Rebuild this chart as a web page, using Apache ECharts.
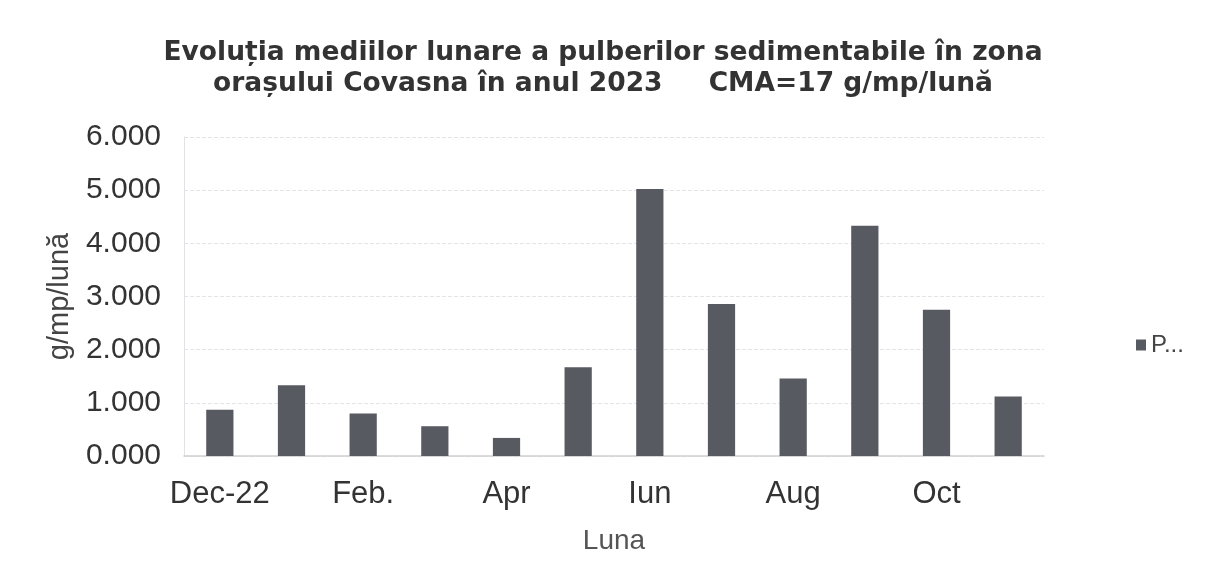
<!DOCTYPE html>
<html>
<head>
<meta charset="utf-8">
<script src="https://cdn.jsdelivr.net/npm/echarts@6/dist/echarts.min.js"></script>
<style>
html,body{margin:0;padding:0;background:#fff;}
#chart{width:1206px;height:582px;}
</style>
</head>
<body>
<div id="chart"></div>
<script>
const months = ['Dec-22','Ian.','Feb.','Mar','Apr','Mai','Iun','Iul','Aug','Sep','Oct','Nov'];
const values = [0.87, 1.33, 0.80, 0.56, 0.34, 1.67, 5.02, 2.86, 1.46, 4.33, 2.75, 1.12];
const seriesName = 'P...';
const titleLines = ['Evoluția mediilor lunare a pulberilor sedimentabile în zona', 'orașului Covasna în anul 2023     CMA=17 g/mp/lună'];

const FONT = 'Liberation Sans, Arial, sans-serif';
const chart = echarts.init(document.getElementById('chart'));
chart.setOption({
  backgroundColor: '#fff',
  animation: false,
  title: {
    text: titleLines.join('\n'),
    left: 'center',
    top: 33,
    textStyle: {fontFamily: 'DejaVu Sans, sans-serif', fontWeight: 'bold', fontSize: 26.5, color: '#333', lineHeight: 31}
  },
  legend: {
    orient: 'vertical',
    left: 1131,
    top: 328,
    itemWidth: 10, itemHeight: 11, itemGap: 6,
    icon: 'rect',
    textStyle: {fontFamily: FONT, fontSize: 24, color: '#444'},
    data: [seriesName]
  },
  grid: {left: 184, right: 162, top: 137, bottom: 126, containLabel: false},
  xAxis: {
    type: 'category',
    data: months,
    name: 'Luna',
    nameLocation: 'middle',
    nameGap: 71,
    nameTextStyle: {fontFamily: FONT, fontSize: 28, color: '#555'},
    axisTick: {show: false},
    axisLine: {lineStyle: {color: '#cfcfd4', width: 1.5}},
    axisLabel: {interval: 1, margin: 23, fontFamily: FONT, fontSize: 31, color: '#333'}
  },
  yAxis: {
    type: 'value',
    min: 0, max: 6, interval: 1,
    name: 'g/mp/lună',
    nameLocation: 'middle',
    nameGap: 110,
    nameRotate: 90,
    nameTextStyle: {fontFamily: FONT, fontSize: 29, color: '#444'},
    axisLine: {show: true, lineStyle: {color: '#e2e2e6'}},
    axisTick: {show: false},
    axisLabel: {margin: 23, fontFamily: FONT, fontSize: 30, color: '#333', formatter: v => v.toFixed(3)},
    splitLine: {lineStyle: {color: '#e4e4e8', type: 'dashed'}}
  },
  series: [{
    name: seriesName,
    type: 'bar',
    data: values,
    barWidth: '38%',
    itemStyle: {color: '#585a62'}
  }]
});
</script>
</body>
</html>
